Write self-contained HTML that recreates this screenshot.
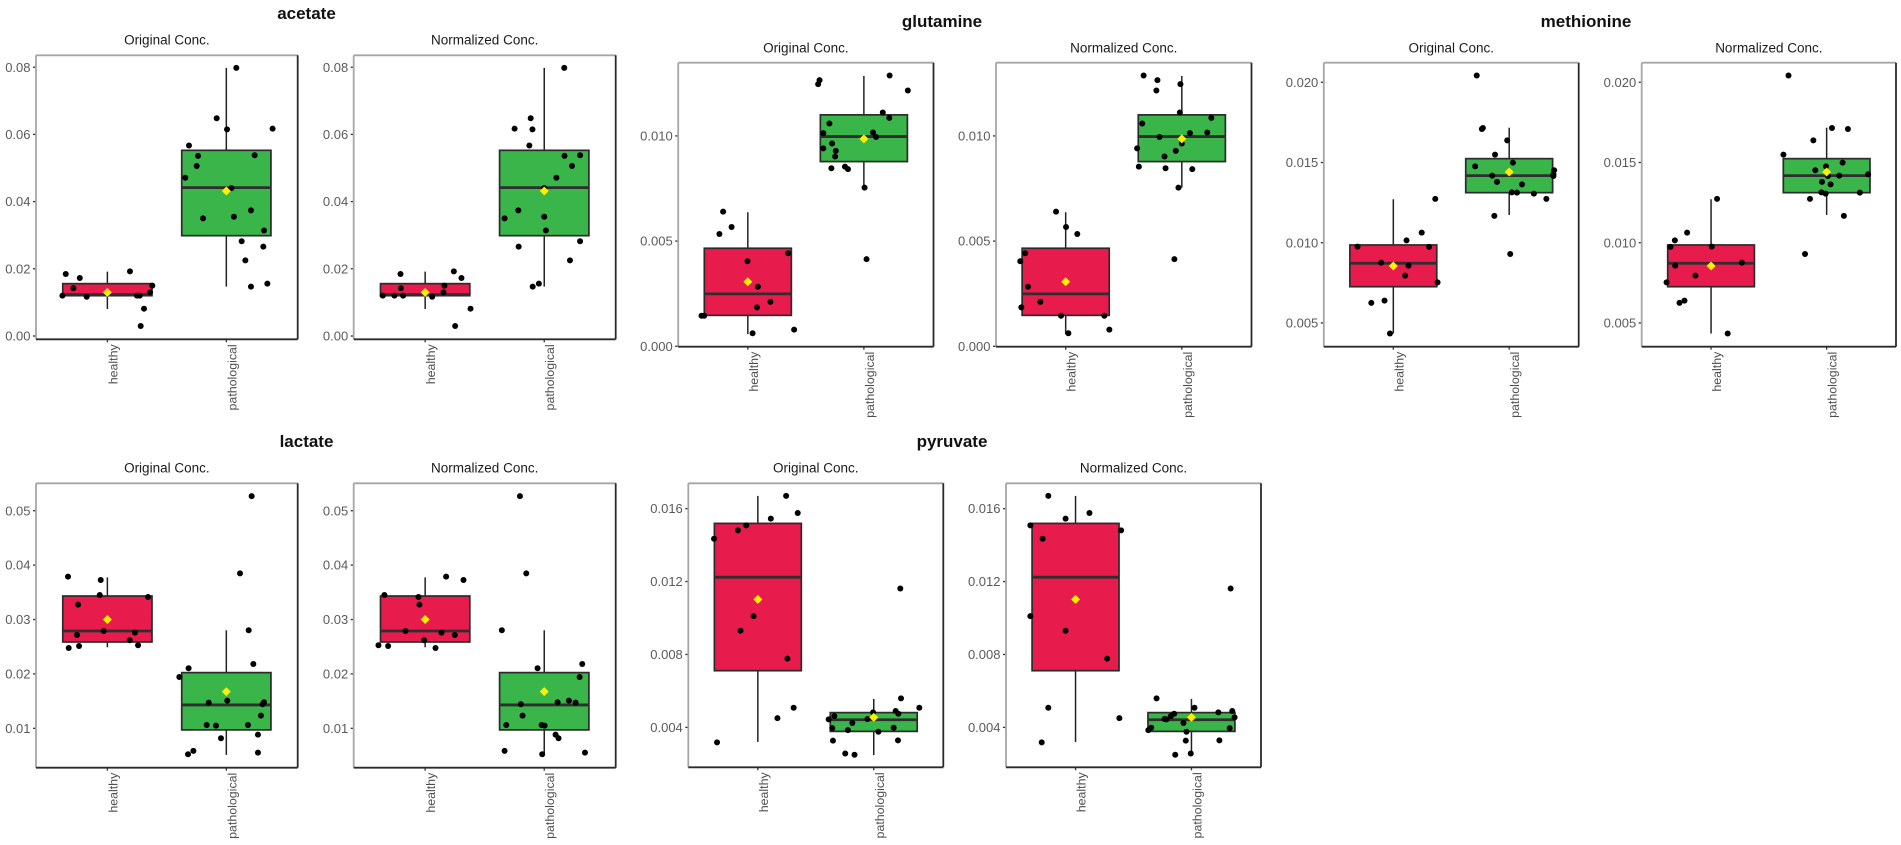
<!DOCTYPE html>
<html lang="en">
<head>
<meta charset="utf-8">
<title>Metabolite concentrations: healthy vs pathological</title>
<style>
html,body{margin:0;padding:0;background:#fff;width:1901px;height:845px;overflow:hidden}
svg{display:block;font-family:"Liberation Sans",sans-serif;filter:blur(0.35px)}
.title{font-size:17px;font-weight:bold;fill:#111;text-anchor:middle}
.sub{font-size:13.5px;fill:#1a1a1a;text-anchor:middle}
.ytick{font-size:13px;fill:#5a5a5a;text-anchor:end}
.xtick{font-size:12.4px;fill:#4d4d4d;text-anchor:end}
</style>
</head>
<body>
<svg id="figure" xmlns="http://www.w3.org/2000/svg" width="1901" height="845" viewBox="0 0 1901 845">
<rect x="0" y="0" width="1901" height="845" fill="#fff"/>
</svg>
<script>
// ---------- shared categories and labels ----------
const categories = ["healthy", "pathological"];
const panelTitles = ["Original Conc.", "Normalized Conc."];

// ---------- tick labels ----------
const acetateTicks = ["0.00", "0.02", "0.04", "0.06", "0.08"];
const glutamineTicks = ["0.000", "0.005", "0.010"];
const methionineTicks = ["0.005", "0.010", "0.015", "0.020"];
const lactateTicks = ["0.01", "0.02", "0.03", "0.04", "0.05"];
const pyruvateTicks = ["0.004", "0.008", "0.012", "0.016"];

// ---------- y-axis limits ----------
const acetateLimits = [-0.00098, 0.08354];
const glutamineLimits = [-0.00002, 0.01348];
const methionineLimits = [0.00352, 0.02122];
const lactateLimits = [0.00276, 0.05504];
const pyruvateLimits = [0.00181, 0.01739];

// ---------- box summaries: [whisker low, q1, median, q3, whisker high, mean] ----------
const acetateHealthyBox = [0.00804, 0.0120, 0.0123, 0.01558, 0.01915, 0.0130];
const acetatePathologicalBox = [0.0147, 0.02986, 0.04415, 0.05526, 0.0798, 0.04315];
const glutamineHealthyBox = [0.00058, 0.00147, 0.00249, 0.00466, 0.00637, 0.00307];
const glutaminePathologicalBox = [0.00754, 0.00878, 0.00997, 0.011, 0.01285, 0.00986];
const methionineHealthyBox = [0.00434, 0.00726, 0.00872, 0.00986, 0.01271, 0.00855];
const methioninePathologicalBox = [0.01173, 0.01312, 0.01418, 0.01524, 0.01717, 0.01441];
const lactateHealthyBox = [0.02489, 0.02587, 0.02789, 0.03432, 0.03775, 0.03];
const lactatePathologicalBox = [0.00511, 0.00971, 0.0143, 0.02024, 0.02802, 0.01675];
const pyruvateHealthyBox = [0.0032, 0.00711, 0.01224, 0.01519, 0.0167, 0.01102];
const pyruvatePathologicalBox = [0.00248, 0.00378, 0.00442, 0.00481, 0.00556, 0.00455];

// ---------- observations ----------
const acetateHealthy = [0.00298, 0.00813, 0.0117, 0.0120, 0.0120, 0.0120, 0.0130, 0.0142, 0.0150, 0.01726, 0.01845, 0.01925];
const acetatePathological = [0.0798, 0.0648, 0.0615, 0.0617, 0.0567, 0.0536, 0.0538, 0.0506, 0.0471, 0.0440, 0.0350, 0.0355, 0.0374, 0.0314, 0.0282, 0.0266, 0.0225, 0.0147, 0.0156];
const glutamineHealthy = [0.0064, 0.00567, 0.00534, 0.00442, 0.00404, 0.00283, 0.00211, 0.00185, 0.00145, 0.00145, 0.00079, 0.00062];
const glutaminePathological = [0.01287, 0.01265, 0.01246, 0.01216, 0.01111, 0.01086, 0.01059, 0.01016, 0.01013, 0.00995, 0.00964, 0.00941, 0.00929, 0.00902, 0.00846, 0.00854, 0.00842, 0.00754, 0.00414];
const methionineHealthy = [0.01273, 0.01063, 0.01015, 0.00976, 0.00974, 0.00876, 0.00857, 0.00795, 0.00753, 0.00639, 0.00625, 0.00434];
const methioninePathological = [0.02042, 0.01715, 0.01709, 0.01638, 0.01549, 0.01499, 0.01476, 0.01452, 0.01427, 0.01418, 0.01416, 0.01379, 0.01364, 0.01314, 0.01312, 0.01306, 0.01273, 0.01167, 0.0093];
const lactateHealthy = [0.03788, 0.03726, 0.03451, 0.03414, 0.03273, 0.02789, 0.02759, 0.02716, 0.02618, 0.02526, 0.02514, 0.02477];
const lactatePathological = [0.05269, 0.03849, 0.02802, 0.02183, 0.02104, 0.01944, 0.01509, 0.01479, 0.01473, 0.01442, 0.01234, 0.01062, 0.01062, 0.0105, 0.00885, 0.00817, 0.00585, 0.00554, 0.00524];
const pyruvateHealthy = [0.0167, 0.01576, 0.01545, 0.01508, 0.01481, 0.01435, 0.0101, 0.0093, 0.00777, 0.00508, 0.00451, 0.00318];
const pyruvatePathological = [0.01162, 0.00559, 0.00508, 0.0049, 0.00482, 0.00475, 0.00462, 0.00455, 0.00446, 0.00444, 0.00424, 0.00398, 0.00396, 0.00385, 0.00376, 0.00329, 0.00327, 0.00257, 0.0025];

// ---------- horizontal jitter, in category units ----------
const acetateHealthyJitterOrig = [0.28, 0.308, -0.174, -0.378, 0.249, 0.272, 0.359, -0.286, 0.378, -0.232, -0.35, 0.19];
const acetateHealthyJitterNorm = [0.252, 0.381, 0.059, -0.356, -0.258, -0.185, 0.154, -0.204, 0.162, 0.305, -0.207, 0.241];
const acetatePathologicalJitterOrig = [0.084, -0.081, 0.006, 0.389, -0.314, -0.238, 0.238, -0.249, -0.345, 0.042, -0.196, 0.064, 0.207, 0.317, 0.129, 0.311, 0.16, 0.207, 0.345];
const acetatePathologicalJitterNorm = [0.168, -0.114, -0.099, -0.249, -0.125, 0.17, 0.301, 0.233, 0.102, 0, -0.333, 0, -0.218, 0.014, 0.301, -0.215, 0.216, -0.097, -0.045];
const glutamineHealthyJitterOrig = [-0.213, -0.14, -0.245, 0.347, -0.003, 0.087, 0.195, 0.079, -0.399, -0.376, 0.399, 0.041];
const glutamineHealthyJitterNorm = [-0.083, 0.003, 0.1, -0.348, -0.391, -0.325, -0.218, -0.382, -0.04, 0.333, 0.376, 0.023];
const glutaminePathologicalJitterOrig = [0.222, -0.382, -0.394, 0.379, 0.163, 0.219, -0.297, 0.079, -0.35, 0.105, -0.274, -0.35, -0.242, -0.248, -0.28, -0.163, -0.137, 0.006, 0.023];
const glutaminePathologicalJitterNorm = [-0.329, -0.21, -0.012, -0.219, -0.017, 0.254, -0.341, 0.219, 0.07, -0.192, 0, -0.385, -0.052, -0.149, -0.14, -0.37, 0.09, -0.029, -0.064];
const methionineHealthyJitterOrig = [0.362, 0.245, 0.114, -0.309, 0.309, -0.105, 0.131, 0.102, 0.382, -0.076, -0.19, -0.029];
const methionineHealthyJitterNorm = [0.052, -0.207, -0.313, 0.006, -0.351, 0.267, -0.31, -0.135, -0.385, -0.23, -0.273, 0.144];
const methioninePathologicalJitterOrig = [-0.28, -0.227, -0.236, -0.017, -0.122, 0.032, -0.294, 0.388, 0.382, -0.146, 0.382, -0.105, 0.111, 0.023, 0.067, 0.213, 0.321, -0.128, 0.009];
const methioninePathologicalJitterNorm = [-0.33, 0.046, 0.184, -0.115, -0.374, 0.138, -0.006, -0.098, 0.359, 0.109, 0.011, -0.04, 0.034, -0.046, 0.287, -0.009, -0.144, 0.149, -0.187];
const lactateHealthyJitterOrig = [-0.331, -0.056, -0.064, 0.342, -0.246, -0.031, 0.232, -0.255, 0.188, 0.258, -0.238, -0.325];
const lactateHealthyJitterNorm = [0.176, 0.322, -0.342, -0.056, -0.048, -0.165, 0.137, 0.249, -0.008, -0.392, -0.311, 0.087];
const lactatePathologicalJitterOrig = [0.213, 0.115, 0.188, 0.227, -0.317, -0.395, 0.008, 0.317, -0.148, 0.305, 0.291, -0.165, 0.182, -0.087, 0.266, -0.045, -0.277, 0.266, -0.322];
const lactatePathologicalJitterNorm = [-0.204, -0.151, -0.356, 0.319, -0.056, 0.297, 0.207, 0.112, 0.263, -0.196, -0.182, -0.319, -0.022, 0.003, 0.095, 0.12, -0.333, 0.342, -0.017];
const pyruvateHealthyJitterOrig = [0.244, 0.344, 0.112, -0.1, -0.172, -0.378, -0.037, -0.149, 0.255, 0.309, 0.169, -0.352];
const pyruvateHealthyJitterNorm = [-0.235, 0.12, -0.086, -0.39, 0.393, -0.284, -0.39, -0.086, 0.272, -0.235, 0.378, -0.292];
const pyruvatePathologicalJitterOrig = [0.229, 0.235, 0.393, 0.189, -0.006, 0.212, -0.34, 0, -0.054, -0.389, -0.185, 0.172, -0.358, -0.223, 0.04, 0.209, -0.352, -0.246, -0.166];
const pyruvatePathologicalJitterNorm = [0.338, -0.301, 0.026, 0.352, 0.232, -0.149, -0.178, 0.372, -0.232, -0.215, -0.069, -0.347, 0.33, -0.372, -0.043, 0.241, -0.049, -0.006, -0.14];

// ---------- page layout (not data) ----------
const metabolites = [
  {name:"acetate", titleX:306.5, titleY:19, subY:44.5, top:55.3, bottom:339.3, lefts:[36,353.7], rights:[297.7,615.7],
   ticks:acetateTicks, limits:acetateLimits,
   values:[acetateHealthy,acetatePathological], boxes:[acetateHealthyBox,acetatePathologicalBox],
   jitter:[[acetateHealthyJitterOrig,acetatePathologicalJitterOrig],[acetateHealthyJitterNorm,acetatePathologicalJitterNorm]]},
  {name:"glutamine", titleX:942, titleY:27, subY:52.3, top:62.7, bottom:346.7, lefts:[678.2,996], rights:[933.5,1251.5],
   ticks:glutamineTicks, limits:glutamineLimits,
   values:[glutamineHealthy,glutaminePathological], boxes:[glutamineHealthyBox,glutaminePathologicalBox],
   jitter:[[glutamineHealthyJitterOrig,glutaminePathologicalJitterOrig],[glutamineHealthyJitterNorm,glutaminePathologicalJitterNorm]]},
  {name:"methionine", titleX:1586, titleY:27, subY:52.3, top:62.7, bottom:346.7, lefts:[1323.8,1641.7], rights:[1578.7,1896],
   ticks:methionineTicks, limits:methionineLimits,
   values:[methionineHealthy,methioninePathological], boxes:[methionineHealthyBox,methioninePathologicalBox],
   jitter:[[methionineHealthyJitterOrig,methioninePathologicalJitterOrig],[methionineHealthyJitterNorm,methioninePathologicalJitterNorm]]},
  {name:"lactate", titleX:306.5, titleY:447, subY:472.6, top:483.3, bottom:767.7, lefts:[36,353.7], rights:[297.7,615.7],
   ticks:lactateTicks, limits:lactateLimits,
   values:[lactateHealthy,lactatePathological], boxes:[lactateHealthyBox,lactatePathologicalBox],
   jitter:[[lactateHealthyJitterOrig,lactatePathologicalJitterOrig],[lactateHealthyJitterNorm,lactatePathologicalJitterNorm]]},
  {name:"pyruvate", titleX:952, titleY:447, subY:472.6, top:483.3, bottom:767.3, lefts:[688.3,1006], rights:[943.3,1261],
   ticks:pyruvateTicks, limits:pyruvateLimits,
   values:[pyruvateHealthy,pyruvatePathological], boxes:[pyruvateHealthyBox,pyruvatePathologicalBox],
   jitter:[[pyruvateHealthyJitterOrig,pyruvatePathologicalJitterOrig],[pyruvateHealthyJitterNorm,pyruvatePathologicalJitterNorm]]}
];
const boxFills = ["#e81b4d", "#3ab54a"];
const NS = "http://www.w3.org/2000/svg";
const svg = document.getElementById("figure");

function make(parent, tag, attrs, text) {
  const el = document.createElementNS(NS, tag);
  for (const k in attrs) el.setAttribute(k, attrs[k]);
  if (text !== undefined) el.textContent = text;
  parent.appendChild(el);
  return el;
}

// axis functions
function yAxis(limits, top, bottom) {
  return function (v) { return bottom - (v - limits[0]) / (limits[1] - limits[0]) * (bottom - top); };
}
function xAxis(left, right) {
  const unit = (right - left) / 2.2;
  const fn = function (catIndex, offset) { return left + (0.6 + catIndex + offset) * unit; };
  fn.unit = unit;
  return fn;
}

function drawBox(g, m, cat, x, y) {
  const s = m.boxes[cat];
  const cx = x(cat, 0);
  const lowWhisker = make(g, "line", {x1:cx, x2:cx, y1:y(s[0]), y2:y(s[1]), stroke:"#222", "stroke-width":1.5});
  
  
  const highWhisker = make(g, "line", {x1:cx, x2:cx, y1:y(s[3]), y2:y(s[4]), stroke:"#222", "stroke-width":1.5});
  
  
  const x0 = x(cat, -0.375), x1 = x(cat, 0.375);
  const rect = make(g, "rect", {x:x0, y:y(s[3]), width:x1 - x0, height:y(s[1]) - y(s[3]), fill:boxFills[cat], stroke:"#2b2b2b", "stroke-width":1.7});
  
  
  const med = make(g, "line", {x1:x0, x2:x1, y1:y(s[2]), y2:y(s[2]), stroke:"#2e2e2e", "stroke-width":2.8});
  
  
}

function drawPanel(m, idx) {
  const L = m.lefts[idx], R = m.rights[idx], T = m.top, B = m.bottom;
  const x = xAxis(L, R), y = yAxis(m.limits, T, B);
  const g = make(svg, "g", {});
  
  

  const sub = make(g, "text", {x:(L + R) / 2, y:m.subY, "class":"sub"}, panelTitles[idx]);
  
  

  // y ticks
  m.ticks.forEach(function (label) {
    const v = parseFloat(label);
    const tick = make(g, "line", {x1:L - 3, x2:L, y1:y(v), y2:y(v), stroke:"#333", "stroke-width":1.3});
    
    
    const t = make(g, "text", {x:L - 5.5, y:y(v) + 4.6, "class":"ytick"}, label);
    
    
  });

  // boxes
  categories.forEach(function (c, cat) { drawBox(g, m, cat, x, y); });

  // jittered points
  categories.forEach(function (c, cat) {
    const vals = m.values[cat], jit = m.jitter[idx][cat];
    vals.forEach(function (v, i) {
      const dot = make(g, "circle", {cx:x(cat, jit[i]), cy:y(v), r:3, fill:"#000"});
      
      
    });
  });

  // mean diamonds
  categories.forEach(function (c, cat) {
    const cx = x(cat, 0), cy = y(m.boxes[cat][5]), d = 4.5;
    const pts = [[cx, cy - d], [cx + d, cy], [cx, cy + d], [cx - d, cy]].map(function (p) { return p.join(","); }).join(" ");
    const dia = make(g, "polygon", {points:pts, fill:"#ffee00"});
    
    
  });

  // frame: light top/left, dark bottom/right
  const topLine = make(g, "line", {x1:L, x2:R, y1:T, y2:T, stroke:"#a6a6a6", "stroke-width":1.8});
  
  
  const leftLine = make(g, "line", {x1:L, x2:L, y1:T, y2:B, stroke:"#a6a6a6", "stroke-width":1.8});
  
  
  const rightLine = make(g, "line", {x1:R, x2:R, y1:T, y2:B, stroke:"#2a2a2a", "stroke-width":1.8});
  
  
  const bottomLine = make(g, "line", {x1:L, x2:R, y1:B, y2:B, stroke:"#2a2a2a", "stroke-width":1.8});
  
  

  // x ticks and labels
  categories.forEach(function (c, cat) {
    const cx = x(cat, 0);
    const tick = make(g, "line", {x1:cx, x2:cx, y1:B, y2:B + 3, stroke:"#333", "stroke-width":1.3});
    
    
    const bx = cx + 10, by = B + 5;
    const t = make(g, "text", {x:bx, y:by, "class":"xtick", transform:"rotate(-90 " + bx + " " + by + ")"}, c);
    
    
  });
}

metabolites.forEach(function (m) {
  const title = make(svg, "text", {x:m.titleX, y:m.titleY, "class":"title"}, m.name);
  
  
  drawPanel(m, 0);
  drawPanel(m, 1);
});
</script>
</body>
</html>
